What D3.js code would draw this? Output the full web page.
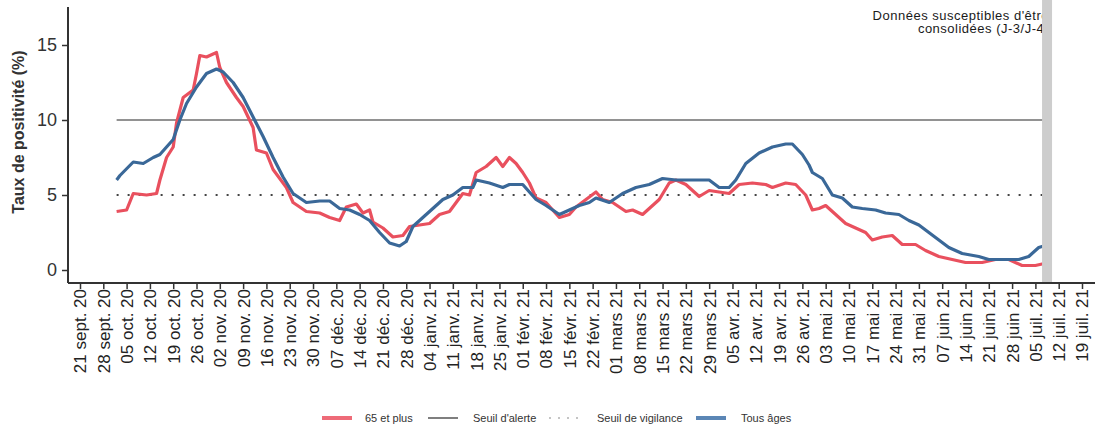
<!DOCTYPE html>
<html>
<head>
<meta charset="utf-8">
<script src="https://cdn.jsdelivr.net/npm/d3@7"></script>
<style>
  body { margin: 0; background: #fff; }
  svg { font-family: Arial, "Liberation Sans", sans-serif; }
  .line { fill: none; stroke-width: 3.2; stroke-linejoin: round; }
</style>
</head>
<body>
<svg id="positivite-graph"></svg>
<script>
// taux de positivite, 65 ans et plus
var seniors = [
  ["2020-10-02",3.9],["2020-10-05",4.0],["2020-10-07",5.1],["2020-10-11",5.0],["2020-10-14",5.1],
  ["2020-10-15",6.0],["2020-10-17",7.5],["2020-10-19",8.2],["2020-10-20",9.8],["2020-10-22",11.5],
  ["2020-10-25",12.0],["2020-10-26",13.1],["2020-10-27",14.3],["2020-10-29",14.2],["2020-11-01",14.5],
  ["2020-11-02",13.5],["2020-11-04",12.5],["2020-11-07",11.5],["2020-11-09",10.9],["2020-11-12",9.5],
  ["2020-11-13",8.0],["2020-11-16",7.8],["2020-11-18",6.7],["2020-11-22",5.5],["2020-11-24",4.5],
  ["2020-11-28",3.9],["2020-12-02",3.8],["2020-12-05",3.5],["2020-12-08",3.3],["2020-12-10",4.2],
  ["2020-12-13",4.4],["2020-12-15",3.8],["2020-12-17",4.0],["2020-12-18",3.2],["2020-12-21",2.8],
  ["2020-12-24",2.2],["2020-12-27",2.3],["2020-12-29",2.9],["2021-01-01",3.0],["2021-01-04",3.1],
  ["2021-01-07",3.7],["2021-01-10",3.9],["2021-01-12",4.5],["2021-01-14",5.1],["2021-01-16",5.0],
  ["2021-01-18",6.5],["2021-01-21",6.9],["2021-01-24",7.5],["2021-01-26",6.9],["2021-01-28",7.5],
  ["2021-01-30",7.1],["2021-02-01",6.5],["2021-02-03",5.8],["2021-02-05",4.8],["2021-02-08",4.5],
  ["2021-02-12",3.5],["2021-02-15",3.7],["2021-02-17",4.2],["2021-02-20",4.7],["2021-02-23",5.2],
  ["2021-02-25",4.7],["2021-02-28",4.5],["2021-03-04",3.9],["2021-03-06",4.0],["2021-03-09",3.7],
  ["2021-03-11",4.1],["2021-03-14",4.7],["2021-03-17",5.8],["2021-03-19",6.0],["2021-03-22",5.7],
  ["2021-03-26",4.9],["2021-03-29",5.3],["2021-04-01",5.2],["2021-04-04",5.1],["2021-04-07",5.7],
  ["2021-04-11",5.8],["2021-04-15",5.7],["2021-04-17",5.5],["2021-04-21",5.8],["2021-04-24",5.7],
  ["2021-04-27",5.0],["2021-04-29",4.0],["2021-05-01",4.1],["2021-05-03",4.3],["2021-05-06",3.7],
  ["2021-05-09",3.1],["2021-05-12",2.8],["2021-05-15",2.5],["2021-05-17",2.0],["2021-05-20",2.2],
  ["2021-05-23",2.3],["2021-05-26",1.7],["2021-05-30",1.7],["2021-06-02",1.3],["2021-06-06",0.9],
  ["2021-06-10",0.7],["2021-06-14",0.5],["2021-06-19",0.5],["2021-06-23",0.7],["2021-06-27",0.7],
  ["2021-07-01",0.3],["2021-07-05",0.3],["2021-07-09",0.5]
];

// taux de positivite, tous ages
var tousAges = [
  ["2020-10-02",6.0],["2020-10-03",6.3],["2020-10-07",7.2],["2020-10-10",7.1],["2020-10-13",7.5],
  ["2020-10-15",7.7],["2020-10-17",8.2],["2020-10-19",8.7],["2020-10-21",10.0],["2020-10-23",11.1],
  ["2020-10-26",12.2],["2020-10-29",13.1],["2020-11-01",13.4],["2020-11-03",13.2],["2020-11-06",12.5],
  ["2020-11-09",11.5],["2020-11-12",10.2],["2020-11-15",8.9],["2020-11-18",7.5],["2020-11-21",6.2],
  ["2020-11-24",5.1],["2020-11-28",4.5],["2020-12-02",4.6],["2020-12-05",4.6],["2020-12-08",4.1],
  ["2020-12-11",4.0],["2020-12-14",3.7],["2020-12-17",3.3],["2020-12-20",2.5],["2020-12-23",1.8],
  ["2020-12-26",1.6],["2020-12-28",1.9],["2020-12-30",2.9],["2021-01-02",3.5],["2021-01-05",4.1],
  ["2021-01-08",4.7],["2021-01-11",5.0],["2021-01-14",5.5],["2021-01-17",5.5],["2021-01-18",6.0],
  ["2021-01-22",5.8],["2021-01-26",5.5],["2021-01-28",5.7],["2021-02-01",5.7],["2021-02-03",5.2],
  ["2021-02-05",4.7],["2021-02-08",4.3],["2021-02-12",3.7],["2021-02-15",4.0],["2021-02-18",4.3],
  ["2021-02-21",4.5],["2021-02-23",4.8],["2021-02-27",4.5],["2021-03-03",5.1],["2021-03-07",5.5],
  ["2021-03-11",5.7],["2021-03-15",6.1],["2021-03-19",6.0],["2021-03-24",6.0],["2021-03-29",6.0],
  ["2021-04-01",5.5],["2021-04-04",5.5],["2021-04-06",6.0],["2021-04-09",7.1],["2021-04-13",7.8],
  ["2021-04-17",8.2],["2021-04-21",8.4],["2021-04-23",8.4],["2021-04-26",7.7],["2021-04-28",7.0],
  ["2021-04-29",6.5],["2021-05-02",6.1],["2021-05-05",5.0],["2021-05-08",4.8],["2021-05-11",4.2],
  ["2021-05-14",4.1],["2021-05-18",4.0],["2021-05-21",3.8],["2021-05-25",3.7],["2021-05-28",3.3],
  ["2021-05-31",3.0],["2021-06-03",2.5],["2021-06-06",2.0],["2021-06-09",1.5],["2021-06-13",1.1],
  ["2021-06-18",0.9],["2021-06-21",0.7],["2021-06-25",0.7],["2021-06-30",0.7],["2021-07-03",0.9],
  ["2021-07-06",1.5],["2021-07-09",1.7]
];

var seuilAlerte = 10;
var seuilVigilance = 5;
var yTicks = [0, 5, 10, 15];
var xTickRange = ["2020-09-21", "2021-07-19"];   // lundis
var periodeConsolidation = ["2021-07-07", "2021-07-10"];
var moisCourts = ["janv.", "févr.", "mars", "avr.", "mai", "juin", "juil.", "août", "sept.", "oct.", "nov.", "déc."];
var annotation = ["Données susceptibles d'être", "consolidées (J-3/J-4)"];
var legendItems = [
  {label: "65 et plus", type: "senior"},
  {label: "Seuil d'alerte", type: "alerte"},
  {label: "Seuil de vigilance", type: "vigilance"},
  {label: "Tous âges", type: "tous"}
];

var red = "#e9505e", blue = "#3a6898";

var width = 1098, height = 427;
var parseTime = d3.timeParse("%Y-%m-%d");

var fr = d3.timeFormatLocale({
  dateTime: "%A %e %B %Y à %X", date: "%d/%m/%Y", time: "%H:%M:%S",
  periods: ["AM", "PM"],
  days: ["dimanche","lundi","mardi","mercredi","jeudi","vendredi","samedi"],
  shortDays: ["dim.","lun.","mar.","mer.","jeu.","ven.","sam."],
  months: ["janvier","février","mars","avril","mai","juin","juillet","août","septembre","octobre","novembre","décembre"],
  shortMonths: moisCourts
});
var formatTick = fr.format("%d %b %y");

var svg = d3.select("#positivite-graph")
    .attr("width", width)
    .attr("height", height);

// set the ranges
var x = d3.scaleTime()
    .domain([parseTime(xTickRange[0]), parseTime(xTickRange[1])])
    .range([80, 1082]);
var xLeft = 68, xRight = 1095;
x.domain([x.invert(xLeft), x.invert(xRight)]).range([xLeft, xRight]);

var y = d3.scaleLinear().domain([0, 15]).range([270, 45]);
var axisBottomY = 283, axisTopY = 7;

var fmt = function(arr){ return arr.map(function(d){ return {date: parseTime(d[0]), value: d[1]}; }); };
var seniorData = fmt(seniors), tousData = fmt(tousAges);

var valueline = d3.line()
    .x(function(d) { return x(d.date); })
    .y(function(d) { return y(d.value); });

var dataStart = tousData[0].date, dataEnd = tousData[tousData.length - 1].date;

// seuil d'alerte
svg.append("line")
    .attr("x1", x(dataStart)).attr("x2", x(dataEnd))
    .attr("y1", y(seuilAlerte)).attr("y2", y(seuilAlerte))
    .attr("stroke", "#6e6e6e").attr("stroke-width", 1.6);

// seuil de vigilance
svg.append("line")
    .attr("x1", x(dataStart)).attr("x2", x(dataEnd))
    .attr("y1", y(seuilVigilance)).attr("y2", y(seuilVigilance))
    .attr("stroke", "#444").attr("stroke-width", 2)
    .attr("stroke-dasharray", "2,9");

// add the lines
svg.append("path")
    .data([seniorData])
    .attr("class", "line")
    .attr("d", valueline)
    .attr("stroke", red);

svg.append("path")
    .data([tousData])
    .attr("class", "line")
    .attr("d", valueline)
    .attr("stroke", blue);

// annotation (partly hidden by the grey band, as in the source)
var bandX0 = x(parseTime(periodeConsolidation[0])),
    bandX1 = x(parseTime(periodeConsolidation[1]));
svg.append("clipPath").attr("id", "annclip")
  .append("rect").attr("x", 0).attr("y", 0).attr("width", bandX1).attr("height", 60);

var ann = svg.append("text")
    .attr("text-anchor", "end")
    .attr("font-size", 13)
    .attr("letter-spacing", 0.5)
    .attr("fill", "#1a1a1a")
    .attr("clip-path", "url(#annclip)");
ann.selectAll("tspan").data(annotation).enter().append("tspan")
    .attr("x", bandX1 - 3)
    .attr("y", function(d, i) { return 20 + i * 13; })
    .text(function(d) { return d; });

// bande grise des donnees a consolider
svg.append("rect")
    .attr("x", bandX0)
    .attr("width", bandX1 - bandX0)
    .attr("y", 0)
    .attr("height", axisBottomY)
    .attr("fill", "#cdcdcd");

// add the X Axis
var xAxis = svg.append("g")
    .attr("transform", "translate(0," + axisBottomY + ")")
    .call(d3.axisBottom(x)
        .tickValues(d3.timeMonday.range(parseTime(xTickRange[0]), d3.timeDay.offset(parseTime(xTickRange[1]), 1)))
        .tickSize(6)
        .tickFormat(formatTick));
xAxis.select(".domain").remove();
xAxis.selectAll(".tick line").attr("stroke", "#333").attr("stroke-width", 1.5);
xAxis.selectAll(".tick text")
    .attr("font-size", 17)
    .attr("fill", "#222")
    .attr("text-anchor", "end")
    .attr("transform", "translate(0,6) rotate(-90)")
    .attr("x", 0).attr("y", 0).attr("dy", "0.35em");

// add the Y Axis
var yAxis = svg.append("g")
    .attr("transform", "translate(" + xLeft + ",0)")
    .call(d3.axisLeft(y).tickValues(yTicks).tickSize(6).tickPadding(5));
yAxis.select(".domain").remove();
yAxis.selectAll(".tick line").attr("stroke", "#333").attr("stroke-width", 1.5);
yAxis.selectAll(".tick text").attr("font-size", 18).attr("fill", "#333");

svg.append("line")
    .attr("x1", xLeft).attr("x2", xLeft).attr("y1", axisTopY).attr("y2", axisBottomY)
    .attr("stroke", "#333").attr("stroke-width", 2);
svg.append("line")
    .attr("x1", xLeft).attr("x2", xRight).attr("y1", axisBottomY).attr("y2", axisBottomY)
    .attr("stroke", "#333").attr("stroke-width", 2);

svg.append("text")
    .attr("transform", "translate(24," + 132 + ") rotate(-90)")
    .attr("text-anchor", "middle")
    .attr("font-size", 16)
    .attr("font-weight", "bold")
    .attr("fill", "#333")
    .text("Taux de positivité (%)");

// legend
var legendX = [322, 428, 549, 696];
var legend = svg.append("g").attr("transform", "translate(0,418)");
legendItems.forEach(function(d, i){
    var g = legend.append("g").attr("transform", "translate(" + legendX[i] + ",0)");
    var sw = g.append("line").attr("x1", 0).attr("x2", 30).attr("y1", 0).attr("y2", 0);
    if(d.type == "senior") sw.attr("stroke", "#ee6b78").attr("stroke-width", 4);
    else if(d.type == "tous") sw.attr("stroke", "#5b86b5").attr("stroke-width", 4);
    else if(d.type == "alerte") sw.attr("stroke", "#555").attr("stroke-width", 1.5);
    else sw.attr("stroke", "#c4c4c4").attr("stroke-width", 2).attr("stroke-dasharray", "2,7");
    g.append("text")
        .attr("x", d.type == "vigilance" ? 48 : (d.type == "senior" ? 43 : 45))
        .attr("y", 0).attr("dy", "0.35em")
        .attr("font-size", 11)
        .attr("fill", "#333")
        .text(d.label);
});
</script>
</body>
</html>
